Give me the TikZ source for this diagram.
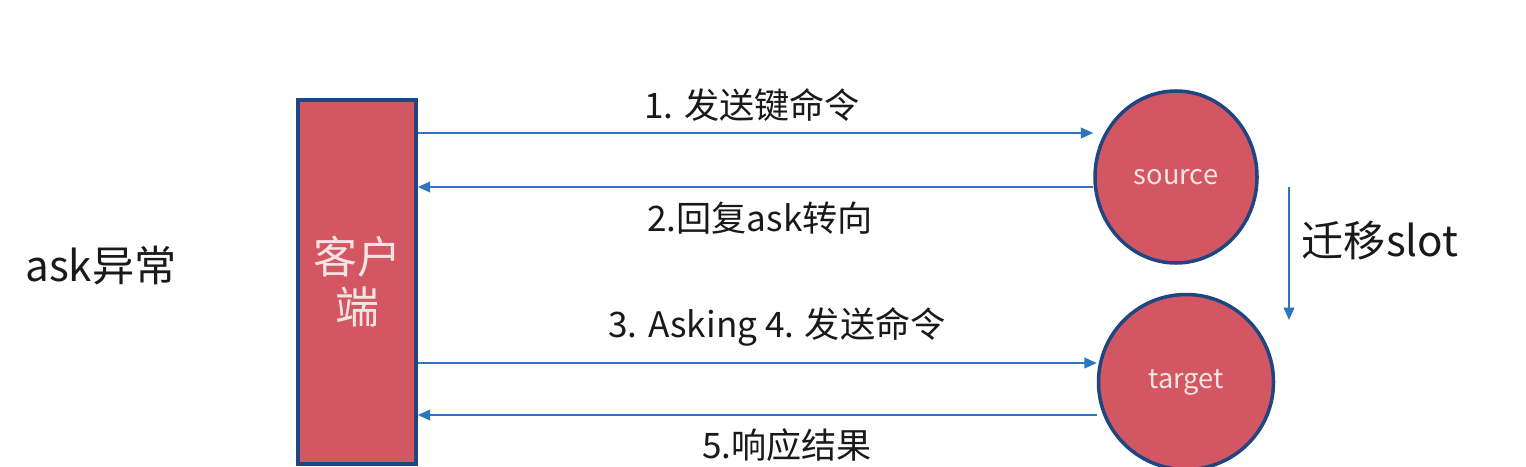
\documentclass[tikz,border=0pt]{standalone}
\usepackage{fontspec}
\setmainfont{Noto Sans CJK SC}
\usepackage{tikz}
\usetikzlibrary{arrows.meta, positioning, shapes.geometric, calc}
\definecolor{nodefill}{HTML}{D35762}
\definecolor{nodeedge}{HTML}{1F4682}
\definecolor{msgblue}{HTML}{2E75C0}
\definecolor{nodetext}{HTML}{F7E3E3}

\begin{document}
\begin{tikzpicture}[>={Triangle[length=7pt,width=6pt]}, every node/.style={align=center},
    msg/.style={->, msgblue, line width=1.1pt},
    lbl/.style={font=\fontsize{20}{24}\selectfont, text=black!90},
    server/.style={ellipse, draw=nodeedge, line width=2pt, fill=nodefill, text=nodetext, font=\fontsize{15.5}{18}\selectfont, inner sep=0pt}]
    \useasboundingbox ({0},{0}) rectangle ({30.52},{9.32});

    \node[draw=nodeedge, line width=2pt, fill=nodefill, text=nodetext, minimum width=2.36cm, minimum height=7.28cm,
          font=\fontsize{25}{28.5}\selectfont] (client) at ({7.14},{3.68}) {客户\\端};
    \node[server, minimum width=3.24cm, minimum height=3.44cm] (source) at ({23.52},{5.78}) {source};
    \node[server, minimum width=3.5cm, minimum height=3.5cm] (target) at ({23.72},{1.68}) {target};

    \node[font=\fontsize{24}{28}\selectfont, text=black!90] (title) at ({2.02},{4.0}) {ask异常};
    \node[font=\fontsize{24}{28}\selectfont, text=black!90] (migrate) at ({27.6},{4.5}) {迁移slot};

    \draw[msg] (client.east |- 0,6.66) -- (source.west |- 0,6.66);
    \draw[msg] (source.west |- 0,5.58) -- (client.east |- 0,5.58);
    \draw[msg] (client.east |- 0,2.06) -- (target.west |- 0,2.06);
    \draw[msg] (target.west |- 0,1.02) -- (client.east |- 0,1.02);

    \node[lbl] (m1) at ({15.04},{7.22}) {1. 发送键命令};
    \node[lbl] (m2) at ({15.2},{4.96}) {2.回复ask转向};
    \node[lbl] (m3) at ({15.54},{2.78}) {3. Asking 4. 发送命令};
    \node[lbl] (m5) at ({15.74},{0.42}) {5.响应结果};

    \coordinate (mtop) at ({25.78},{5.58});
    \coordinate (mbot) at ({25.78},{2.92});
    \draw[msg] (mtop) -- (mbot);
\end{tikzpicture}
\end{document}
